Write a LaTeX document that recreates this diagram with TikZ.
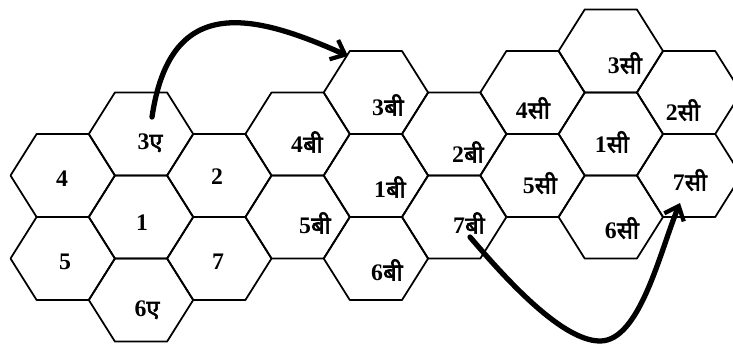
\documentclass[tikz,border=0pt]{standalone}
\usepackage{fontspec}
\setmainfont{Liberation Serif}
\newfontfamily\devfont[Script=Devanagari, AutoFakeBold=2.5]{Noto Sans}
\usetikzlibrary{arrows.meta}
\newcommand{\dv}[1]{{\devfont\bfseries #1}}

\begin{document}
\begin{tikzpicture}[
  x=0.02cm, y=-0.02cm,
  hexline/.style={draw, line width=1pt, line join=round},
  lbl/.style={font=\fontsize{13.5}{15}\selectfont\bfseries, inner sep=0pt},
  jump/.style={-{Straight Barb[length=7pt, width=12pt, line width=2.4pt]},
               line width=3pt, line cap=round},
]
  \clip (0,0) rectangle (733,343);

  % three clusters of seven cells
  \foreach \ox/\oy in {141/217, 375.9/175.5, 610.8/134}
    \foreach \dx/\dy in {0/0, 0/-83, 0/83, -78.3/-41.5, -78.3/41.5,
                         78.3/-41.5, 78.3/41.5}
      \draw[hexline] (\ox+\dx-52.2,\oy+\dy) -- (\ox+\dx-26.1,\oy+\dy-41.5)
        -- (\ox+\dx+26.1,\oy+\dy-41.5) -- (\ox+\dx+52.2,\oy+\dy)
        -- (\ox+\dx+26.1,\oy+\dy+41.5) -- (\ox+\dx-26.1,\oy+\dy+41.5) -- cycle;

  % cluster A
  \node[lbl] (a4) at (62,179) {4};
  \node[lbl] (a3) at (150,143) {3\dv{ए}};
  \node[lbl] (a1) at (142,223) {1};
  \node[lbl] (a2) at (217,177) {2};
  \node[lbl] (a5) at (65,262) {5};
  \node[lbl] (a7) at (218,262) {7};
  \node[lbl] (a6) at (147,310) {6\dv{ए}};

  % cluster B
  \node[lbl] (b3) at (388,105) {3\dv{बी}};
  \node[lbl] (b4) at (307,142) {4\dv{बी}};
  \node[lbl] (b2) at (468,152) {2\dv{बी}};
  \node[lbl] (b1) at (390,187) {1\dv{बी}};
  \node[lbl] (b5) at (315,223) {5\dv{बी}};
  \node[lbl] (b7) at (469,223) {7\dv{बी}};
  \node[lbl] (b6) at (387,270) {6\dv{बी}};

  % cluster C
  \node[lbl] (c3) at (625,63) {3\dv{सी}};
  \node[lbl] (c4) at (533,108) {4\dv{सी}};
  \node[lbl] (c2) at (683,110) {2\dv{सी}};
  \node[lbl] (c1) at (612,142) {1\dv{सी}};
  \node[lbl] (c5) at (540,183) {5\dv{सी}};
  \node[lbl] (c7) at (690,180) {7\dv{सी}};
  \node[lbl] (c6) at (622,228) {6\dv{सी}};

  % arrow ends
  \coordinate (fromA) at (152,117);
  \coordinate (toB) at (348,56);
  \coordinate (fromB) at (470,237);
  \coordinate (lowB) at (600,341);
  \coordinate (toC) at (680,203);

  \draw[jump] (fromA) .. controls (170,-5) and (250,12) .. (toB);
  \draw[jump] (fromB) .. controls (500,272) and (560,341) .. (lowB)
    .. controls (640,341) and (660,251) .. (toC);
\end{tikzpicture}
\end{document}
